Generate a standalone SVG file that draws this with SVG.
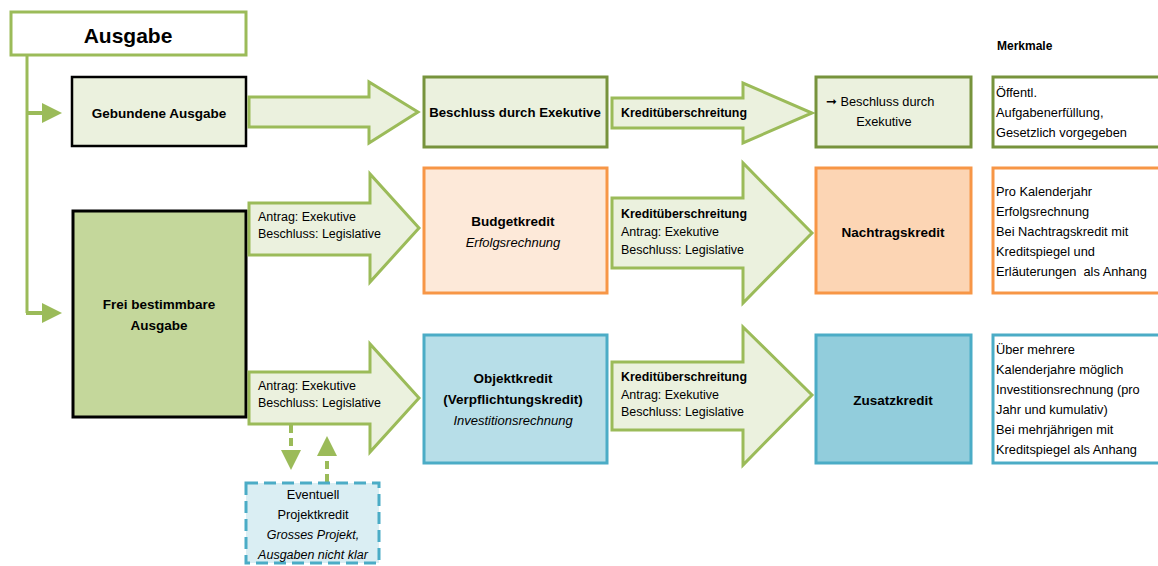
<svg xmlns="http://www.w3.org/2000/svg" width="1158" height="566" viewBox="0 0 1158 566">
<style>
text{font-family:"Liberation Sans",Arial,sans-serif;fill:#000}
.b{font-weight:bold;font-size:13.5px}
.r{font-size:12.5px}
.m{font-size:12.8px}
.i{font-style:italic;font-size:13px}
.c{text-anchor:middle}
.arr{fill:#EBF1DE;stroke:#9BBB59;stroke-width:3;stroke-linejoin:miter}
.g{fill:#EBF1DE;stroke:#77933C;stroke-width:3}
.o{stroke:#F79646;stroke-width:3}
.bl{stroke:#4BACC6;stroke-width:3}
.con{stroke:#9BBB59;stroke-width:4;fill:none}
</style>
<defs>
<marker id="ah" markerWidth="5" markerHeight="5" refX="4" refY="2.5" orient="auto" markerUnits="strokeWidth">
<path d="M0,0 L5,2.5 L0,5 Z" fill="#9BBB59"/>
</marker>
</defs>

<g id="connectors">
<path d="M27,55 V313" stroke="#9BBB59" stroke-width="3" fill="none"/>
<path d="M26,113 H58" class="con" marker-end="url(#ah)"/>
<path d="M26,313 H58" class="con" marker-end="url(#ah)"/>
<path d="M291,425 V466" class="con" stroke-dasharray="8,5" marker-end="url(#ah)"/>
<path d="M327,482 V440" class="con" stroke-dasharray="8,5" marker-end="url(#ah)"/>
</g>

<g id="ausgabe">
<rect x="11" y="12" width="235" height="43" fill="#fff" stroke="#9BBB59" stroke-width="3"/>
<text x="128" y="43" class="c" style="font-weight:bold;font-size:21px">Ausgabe</text>
</g>

<g id="gebundene">
<rect x="72" y="77" width="174" height="69" fill="#EBF1DE" stroke="#000" stroke-width="2.5"/>
<text x="159" y="118" class="b c">Gebundene Ausgabe</text>
</g>

<g id="frei">
<rect x="73" y="211" width="173" height="206" fill="#C4D79B" stroke="#000" stroke-width="3"/>
<text x="159" y="309" class="b c">Frei bestimmbare</text>
<text x="159" y="330" class="b c">Ausgabe</text>
</g>

<g id="arrow-r1a">
<path d="M249,97 H369 V82 L418,112 L369,143 V127 H249 Z" class="arr"/>
</g>
<g id="arrow-r2a">
<path d="M249,203 H370 V174 L419,228 L370,282 V255 H249 Z" class="arr"/>
<text x="258" y="221" class="r">Antrag: Exekutive</text>
<text x="258" y="238" class="r">Beschluss: Legislative</text>
</g>
<g id="arrow-r3a">
<path d="M249,372 H370 V344 L419,398 L370,452 V424 H249 Z" class="arr"/>
<text x="258" y="390" class="r">Antrag: Exekutive</text>
<text x="258" y="407" class="r">Beschluss: Legislative</text>
</g>

<g id="beschluss">
<rect x="424" y="77" width="183" height="70" class="g"/>
<text x="515" y="117" class="b c" style="font-size:13.2px">Beschluss durch Exekutive</text>
</g>

<g id="budgetkredit">
<rect x="424" y="168" width="183" height="125" fill="#FDE9D9" class="o"/>
<text x="513" y="226" class="b c">Budgetkredit</text>
<text x="513" y="247" class="i c">Erfolgsrechnung</text>
</g>

<g id="objektkredit">
<rect x="424" y="335" width="183" height="128" fill="#B7DEE8" class="bl"/>
<text x="513" y="383" class="b c">Objektkredit</text>
<text x="513" y="404" class="b c">(Verpflichtungskredit)</text>
<text x="513" y="425" class="i c">Investitionsrechnung</text>
</g>

<g id="arrow-r1b">
<path d="M612,98 H743 V83 L812,113 L743,143 V128 H612 Z" class="arr"/>
<text x="621" y="117" class="b" style="font-size:12.4px">Kreditüberschreitung</text>
</g>
<g id="arrow-r2b">
<path d="M612,198 H743 V163 L812,233 L743,303 V268 H612 Z" class="arr"/>
<text x="621" y="218" class="b" style="font-size:12.4px">Kreditüberschreitung</text>
<text x="621" y="236" class="r">Antrag: Exekutive</text>
<text x="621" y="254" class="r">Beschluss: Legislative</text>
</g>
<g id="arrow-r3b">
<path d="M612,362 H743 V327 L812,395 L743,465 V430 H612 Z" class="arr"/>
<text x="621" y="381" class="b" style="font-size:12.4px">Kreditüberschreitung</text>
<text x="621" y="399" class="r">Antrag: Exekutive</text>
<text x="621" y="416" class="r">Beschluss: Legislative</text>
</g>

<g id="beschluss-exekutive">
<rect x="816" y="77" width="155" height="70" class="g"/>
<text x="826" y="106" class="m"><tspan style="font-family:'DejaVu Sans',sans-serif;font-size:13px">➞</tspan> Beschluss durch</text>
<text x="884" y="126" class="m c">Exekutive</text>
</g>

<g id="nachtragskredit">
<rect x="816" y="168" width="155" height="125" fill="#FCD5B4" class="o"/>
<text x="893" y="237" class="b c">Nachtragskredit</text>
</g>

<g id="zusatzkredit">
<rect x="816" y="335" width="155" height="128" fill="#92CDDC" class="bl"/>
<text x="893" y="405" class="b c">Zusatzkredit</text>
</g>

<g id="merkmale-title">
<text x="997" y="50" style="font-weight:bold;font-size:12px">Merkmale</text>
</g>

<g id="merkmale-1">
<rect x="993" y="77" width="170" height="70" fill="#fff" stroke="#77933C" stroke-width="3"/>
<text x="996" y="97" class="m">Öffentl.</text>
<text x="996" y="117" class="m">Aufgabenerfüllung,</text>
<text x="996" y="137" class="m">Gesetzlich vorgegeben</text>
</g>

<g id="merkmale-2">
<rect x="993" y="168" width="170" height="125" fill="#fff" class="o"/>
<text x="996" y="196" class="m">Pro Kalenderjahr</text>
<text x="996" y="216" class="m">Erfolgsrechnung</text>
<text x="996" y="236" class="m">Bei Nachtragskredit mit</text>
<text x="996" y="256" class="m">Kreditspiegel und</text>
<text x="996" y="276" class="m" style="white-space:pre">Erläuterungen  als Anhang</text>
</g>

<g id="merkmale-3">
<rect x="993" y="335" width="170" height="128" fill="#fff" class="bl"/>
<text x="996" y="354" class="m">Über mehrere</text>
<text x="996" y="374" class="m">Kalenderjahre möglich</text>
<text x="996" y="394" class="m">Investitionsrechnung (pro</text>
<text x="996" y="414" class="m">Jahr und kumulativ)</text>
<text x="996" y="434" class="m">Bei mehrjährigen mit</text>
<text x="996" y="454" class="m">Kreditspiegel als Anhang</text>
</g>

<g id="projektkredit">
<rect x="246" y="483" width="133" height="80" fill="#DAEEF3" stroke="#4BACC6" stroke-width="3" stroke-dasharray="12,6"/>
<text x="313" y="499" class="m c">Eventuell</text>
<text x="313" y="519" class="m c">Projektkredit</text>
<text x="313" y="539" class="i c" style="font-size:12.5px">Grosses Projekt,</text>
<text x="313" y="559" class="i c" style="font-size:12.5px">Ausgaben nicht klar</text>
</g>
</svg>
